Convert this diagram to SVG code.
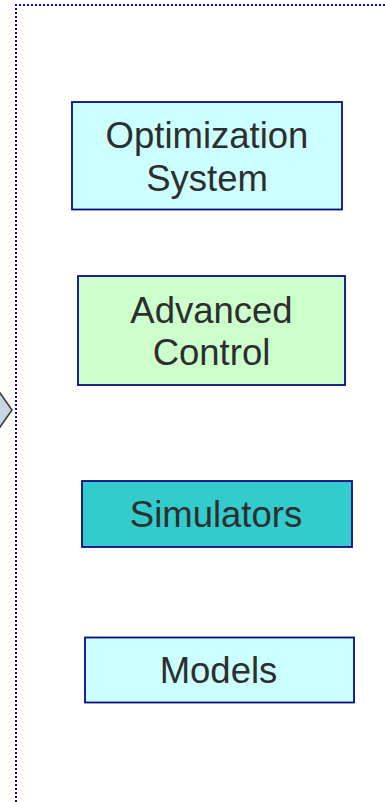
<svg xmlns="http://www.w3.org/2000/svg" width="385" height="802" viewBox="0 0 385 802">
<style>
.box{stroke:#0a0a80;stroke-width:1.8}
.lbl{font-family:"Liberation Sans",Arial,sans-serif;font-size:36.5px;fill:#2e2e2e;text-anchor:middle}
.frame{fill:none;stroke:#0000ff;stroke-width:2;stroke-dasharray:2 2}
</style>
<rect x="0" y="0" width="385" height="802" fill="#ffffff"/>
<g id="frame">
<path class="frame" d="M16,802 V5 H385"/>
</g>
<g id="diamond">
<polygon points="12,410 -12,376 -36,410 -12,444" fill="#c7d7e4" stroke="#404040" stroke-width="1.6"/>
</g>
<g id="connectors"></g>
<g id="optimization-system">
<rect class="box" x="72" y="102" width="270" height="107.5" fill="#ccffff"/>
<text class="lbl" x="207" y="148">Optimization</text>
<text class="lbl" x="207" y="191">System</text>
</g>
<g id="advanced-control">
<rect class="box" x="78" y="276" width="267" height="109" fill="#ccffcc"/>
<text class="lbl" x="211.5" y="323">Advanced</text>
<text class="lbl" x="211.5" y="365">Control</text>
</g>
<g id="simulators">
<rect class="box" x="82" y="481" width="270" height="66" fill="#33cccc"/>
<text class="lbl" x="216" y="527">Simulators</text>
</g>
<g id="models">
<rect class="box" x="85" y="637.5" width="269" height="65" fill="#ccffff"/>
<text class="lbl" x="218.5" y="683">Models</text>
</g>
</svg>
